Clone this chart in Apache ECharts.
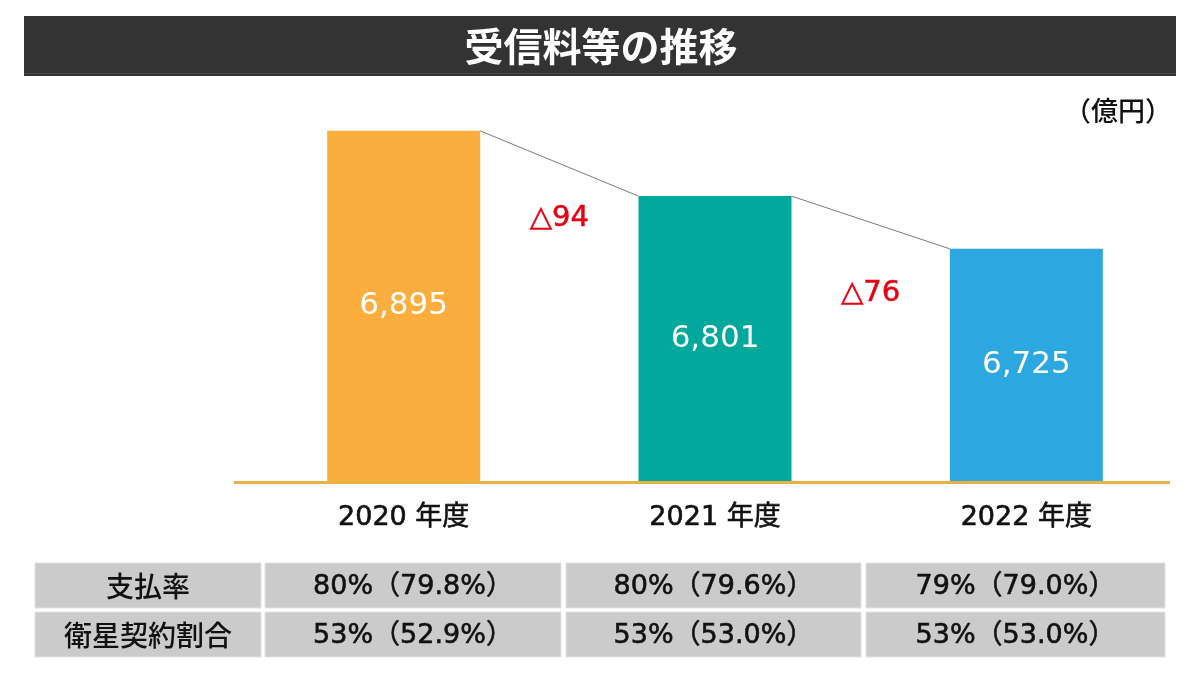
<!DOCTYPE html>
<html>
<head>
<meta charset="utf-8">
<script src="https://cdn.jsdelivr.net/npm/echarts@6/dist/echarts.min.js"></script>
<style>
  html, body { margin: 0; padding: 0; background: #ffffff; }
  #chart { width: 1200px; height: 675px; }
</style>
</head>
<body>
<div id="chart"></div>
<script>
// ---- data ----
const titleText = '受信料等の推移';
const unitText = '（億円）';
const categories = ['2020 年度', '2021 年度', '2022 年度'];
const revenue = [6895, 6801, 6725];
const barColors = ['#FBAE3E', '#00A99C', '#2DA7E0'];
const tableRowLabels = ['支払率', '衛星契約割合'];
const paymentRate = ['80%（79.8%）', '80%（79.6%）', '79%（79.0%）'];
const satelliteRate = ['53%（52.9%）', '53%（53.0%）', '53%（53.0%）'];

const FONT = '"Noto Sans CJK JP", "Noto Sans", sans-serif';
const NUMFONT = '"DejaVu Sans", "Noto Sans CJK JP", sans-serif';
const BAR_W = 153;

// deltas between consecutive years
const deltas = revenue.slice(0, -1).map((v, i) => ({ from: i, value: v - revenue[i + 1] }));
const deltaOffsetY = [22, 45];

// ---- table graphics ----
const tableRows = [paymentRate, satelliteRate];
const colX = [[35, 261], [265, 561], [566, 861], [866, 1165]];
const rowY = [[563, 608], [612, 657]];
const tableGraphics = [];
tableRows.forEach((row, r) => {
  const cells = [tableRowLabels[r]].concat(row);
  cells.forEach((txt, c) => {
    const [x0, x1] = colX[c];
    const [y0, y1] = rowY[r];
    tableGraphics.push({
      type: 'rect',
      shape: { x: x0, y: y0, width: x1 - x0, height: y1 - y0 },
      style: { fill: '#cbcbcb', stroke: '#e2e2e2', lineWidth: 1 }
    });
    tableGraphics.push({
      type: 'text',
      x: (x0 + x1) / 2, y: (y0 + y1) / 2 + 1,
      style: {
        text: txt, fill: '#111',
        font: (c === 0 ? '500 28px ' + FONT : '27px ' + NUMFONT),
        stroke: c === 0 ? null : '#111', lineWidth: c === 0 ? 0 : 0.6,
        textAlign: 'center', textVerticalAlign: 'middle'
      }
    });
  });
});

const chart = echarts.init(document.getElementById('chart'));
chart.setOption({
  animation: false,
  backgroundColor: '#ffffff',
  grid: { left: 248, right: 18, top: 58, bottom: 193 },
  xAxis: {
    type: 'category',
    data: categories,
    axisLine: { show: false },
    axisTick: { show: false },
    axisLabel: {
      margin: 22, fontSize: 27, color: '#111', fontFamily: NUMFONT,
      textBorderColor: '#111', textBorderWidth: 0.6
    }
  },
  yAxis: {
    type: 'value',
    min: 6389, max: 7000,
    show: false,
    splitLine: { show: false }
  },
  series: [
    {
      type: 'bar',
      barWidth: BAR_W,
      data: revenue.map((v, i) => ({ value: v, itemStyle: { color: barColors[i] } })),
      label: {
        show: true, position: 'inside', color: '#ffffff',
        fontSize: 31, fontFamily: NUMFONT,
        formatter: p => p.value.toLocaleString('en-US')
      },
      z: 2
    },
    {
      type: 'custom',
      data: deltas.map(d => [d.from, d.value]),
      renderItem: function (params, api) {
        const i = api.value(0);
        const p1 = api.coord([i, revenue[i]]);
        const p2 = api.coord([i + 1, revenue[i + 1]]);
        const x1 = p1[0] + BAR_W / 2, y1 = p1[1];
        const x2 = p2[0] - BAR_W / 2, y2 = p2[1];
        return {
          type: 'group',
          children: [
            {
              type: 'line',
              shape: { x1: x1, y1: y1, x2: x2, y2: y2 },
              style: { stroke: '#7a7a7a', lineWidth: 1 }
            },
            {
              type: 'text',
              x: (x1 + x2) / 2, y: y2 + deltaOffsetY[params.dataIndex],
              style: {
                text: '△' + api.value(1), fill: '#E60012',
                font: '29px ' + NUMFONT,
                stroke: '#E60012', lineWidth: 0.5,
                textAlign: 'center', textVerticalAlign: 'middle'
              }
            }
          ]
        };
      },
      z: 3
    }
  ],
  graphic: [
    {
      type: 'rect',
      shape: { x: 24, y: 16, width: 1152, height: 60 },
      style: { fill: '#333333' }
    },
    {
      type: 'rect',
      shape: { x: 24, y: 73, width: 1152, height: 1 },
      style: { fill: '#4a4a4a' }
    },
    {
      type: 'text',
      x: 601, y: 46,
      style: {
        text: titleText, fill: '#ffffff', font: 'bold 39px ' + FONT,
        textAlign: 'center', textVerticalAlign: 'middle'
      }
    },
    {
      type: 'text',
      x: 1172, y: 111,
      style: {
        text: unitText, fill: '#111', font: '500 27px ' + FONT,
        textAlign: 'right', textVerticalAlign: 'middle'
      }
    },
    {
      type: 'line',
      shape: { x1: 234, y1: 482.5, x2: 1170, y2: 482.5 },
      style: { stroke: '#E8B24A', lineWidth: 3 },
      z: 10
    }
  ].concat(tableGraphics)
});
</script>
</body>
</html>
